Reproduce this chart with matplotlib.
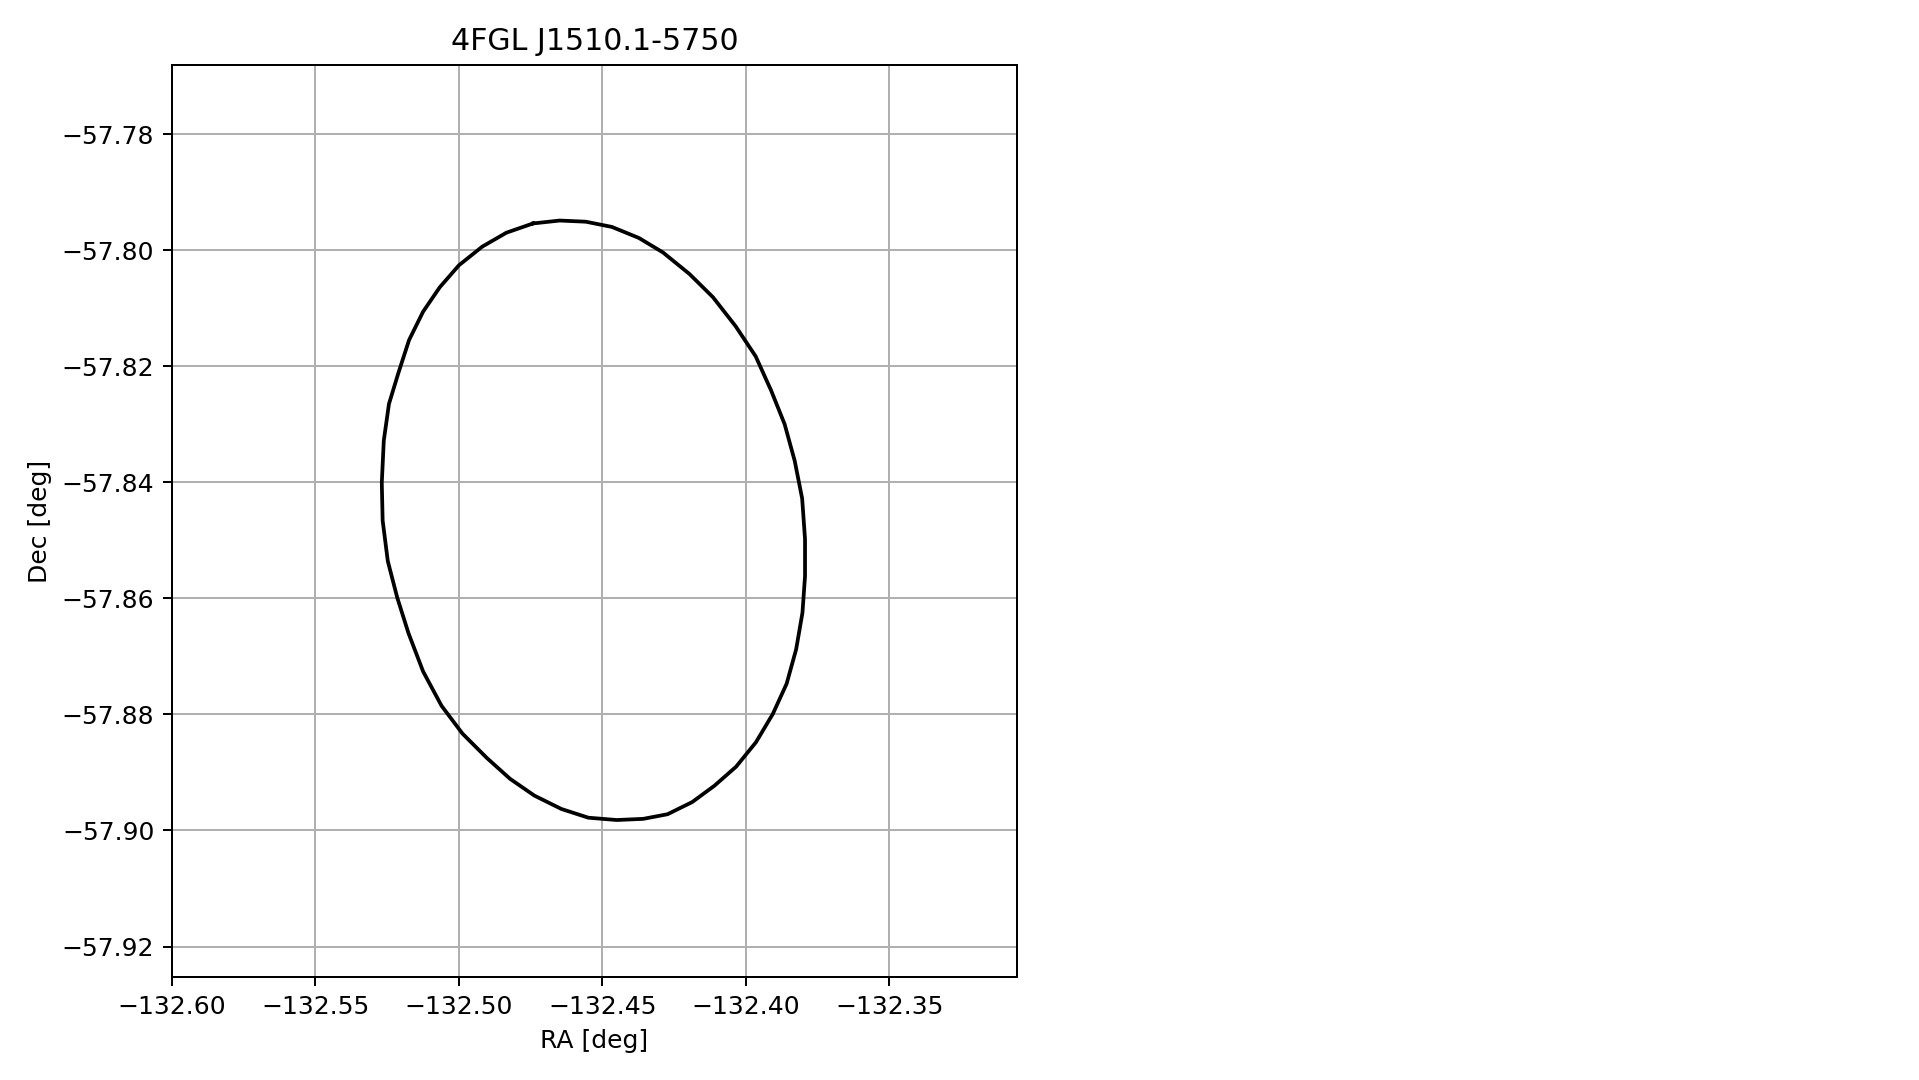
import matplotlib
matplotlib.use("Agg")
import matplotlib.pyplot as plt

title = "4FGL J1510.1-5750"
ra_deg = [
    -132.4741, -132.4648, -132.4557, -132.4466, -132.4372, -132.4288, -132.4196,
    -132.4114, -132.4035, -132.3965, -132.3911, -132.3864, -132.3829, -132.3803,
    -132.3793, -132.3793, -132.3802, -132.3824, -132.3857, -132.3905, -132.3964,
    -132.4033, -132.4109, -132.4186, -132.4272, -132.4357, -132.4449, -132.4548,
    -132.4642, -132.4736, -132.4821, -132.4902, -132.4987, -132.5060, -132.5124,
    -132.5175, -132.5214, -132.5247, -132.5265, -132.5268, -132.5261, -132.5243,
    -132.5211, -132.5173, -132.5124, -132.5066, -132.4999, -132.4918, -132.4834,
    -132.4741,
]
dec_deg = [
    -57.7954, -57.7949, -57.7951, -57.7960, -57.7979, -57.8004, -57.8041,
    -57.8081, -57.8131, -57.8183, -57.8242, -57.8300, -57.8363, -57.8428,
    -57.8498, -57.8562, -57.8625, -57.8688, -57.8747, -57.8799, -57.8848,
    -57.8890, -57.8923, -57.8951, -57.8972, -57.8980, -57.8982, -57.8978,
    -57.8963, -57.8940, -57.8911, -57.8875, -57.8833, -57.8785, -57.8726,
    -57.8660, -57.8599, -57.8536, -57.8466, -57.8401, -57.8328, -57.8265,
    -57.8213, -57.8155, -57.8106, -57.8064, -57.8026, -57.7994, -57.7970,
    -57.7954,
]
x_ticks = [-132.60, -132.55, -132.50, -132.45, -132.40, -132.35]
y_ticks = [-57.78, -57.80, -57.82, -57.84, -57.86, -57.88, -57.90, -57.92]

DPI = 180
fig = plt.figure(figsize=(1919 / DPI, 1080 / DPI), dpi=DPI)
ax = fig.add_axes([0.0895, 0.0951, 0.4405, 0.8447])
ax.plot(ra_deg, dec_deg, color="black", lw=1.5)
ax.set_xlim(-132.60, -132.3054)
ax.set_ylim(-57.9253, -57.7681)
ax.set_xticks(x_ticks)
ax.set_yticks(y_ticks)
ax.grid(True)
ax.set_xlabel("RA [deg]")
ax.set_ylabel("Dec [deg]")
ax.set_title(title)
fig.savefig("out.png", dpi=DPI)
